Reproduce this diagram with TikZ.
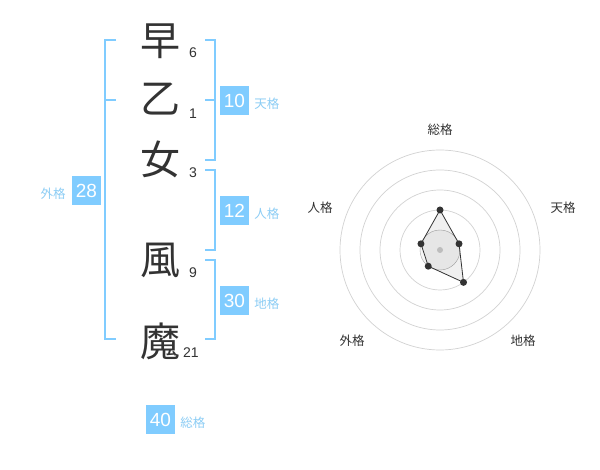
\documentclass[tikz,border=0pt]{standalone}
\usepackage{fontspec}
\setmainfont{Liberation Sans}
\newfontfamily\jpfont{Noto Sans CJK JP}
\usepackage{tikz}
\usetikzlibrary{positioning, calc}
\definecolor{kakublue}{RGB}{128, 204, 255}
\definecolor{kakutext}{RGB}{140, 205, 245}
\definecolor{inkgray}{RGB}{51, 51, 51}
\definecolor{ringgray}{RGB}{210, 210, 210}

\begin{document}
\begin{tikzpicture}[
  x=1pt, y=-1pt,
  kanji/.style={font=\jpfont\fontsize{40}{40}\selectfont, text=inkgray, inner sep=0pt},
  strokes/.style={font=\fontsize{14}{14}\selectfont, text=inkgray, inner sep=0pt},
  numbox/.style={fill=kakublue, text=white, font=\fontsize{19}{19}\selectfont, minimum size=29pt, inner sep=0pt},
  kakulabel/.style={font=\jpfont\fontsize{12.5}{12.5}\selectfont, text=kakutext, inner sep=0pt, yshift=-3pt},
  bracket/.style={draw=kakublue, line width=2pt},
  ring/.style={draw=ringgray, line width=0.7pt},
  axislabel/.style={font=\jpfont\fontsize{12.5}{12.5}\selectfont, text=inkgray, inner sep=0pt},
  vdot/.style={circle, fill=inkgray, inner sep=0pt, minimum size=7pt}
]
  \fill[white] (0,0) rectangle (600,470);
  \useasboundingbox (0,0) rectangle (600,470);

  % name
  \node[kanji] (k1) at (160,41) {早};
  \node[kanji] (k2) at (160,99) {乙};
  \node[kanji] (k3) at (160,159) {女};
  \node[kanji] (k4) at (160,260) {風};
  \node[kanji] (k5) at (160,341) {魔};
  \node[strokes] (s1) at (193,53) {6};
  \node[strokes] (s2) at (193,114) {1};
  \node[strokes] (s3) at (193,173) {3};
  \node[strokes] (s4) at (193,273) {9};
  \node[strokes] (s5) at (191,353) {21};

  % brackets
  \draw[bracket] (116,40) -- (105,40) -- (105,339) -- (116,339);
  \draw[bracket] (105,100) -- (116,100);
  \draw[bracket] (205,40) -- (215,40) -- (215,160) -- (205,160);
  \draw[bracket] (205,100) -- (215,100);
  \draw[bracket] (205,170) -- (215,170) -- (215,250) -- (205,250);
  \draw[bracket] (205,260) -- (215,260) -- (215,339) -- (205,339);

  \node[numbox] (gai) at (86.5,190.5) {28};
  \node[kakulabel, left=6pt of gai] (gaiL) {外格};
  \node[numbox] (ten) at (234.5,100.5) {10};
  \node[kakulabel, right=5pt of ten] (tenL) {天格};
  \node[numbox] (jin) at (234.5,211) {12};
  \node[kakulabel, right=5pt of jin] (jinL) {人格};
  \node[numbox] (chi) at (234.5,300.5) {30};
  \node[kakulabel, right=5pt of chi] (chiL) {地格};
  \node[numbox] (sou) at (160.5,419.5) {40};
  \node[kakulabel, right=5pt of sou] (souL) {総格};

  % radar
  \coordinate (ctr) at (440,250);
  \foreach \r in {40,60,80,100}
    \draw[ring] (ctr) circle (\r pt);
  \draw[draw=ringgray!80!black, fill=black, fill opacity=0.04] (ctr) circle (20pt);
  \coordinate (pS) at ($(ctr)+(-90:40)$);
  \coordinate (pT) at ($(ctr)+(-18:20)$);
  \coordinate (pC) at ($(ctr)+(54:40)$);
  \coordinate (pG) at ($(ctr)+(126:20)$);
  \coordinate (pJ) at ($(ctr)+(198:20)$);
  \draw[inkgray, line width=0.8pt, fill=black, fill opacity=0.06]
    (pS) -- (pT) -- (pC) -- (pG) -- (pJ) -- cycle;
  \fill[ringgray!90!black] (ctr) circle (3pt);
  \foreach \p in {pS,pT,pC,pG,pJ}
    \node[vdot] at (\p) {};

  \node[axislabel] (aS) at (440,130) {総格};
  \node[axislabel] (aT) at (563,208) {天格};
  \node[axislabel] (aC) at (523,341) {地格};
  \node[axislabel] (aG) at (352,341) {外格};
  \node[axislabel] (aJ) at (320,208) {人格};
\end{tikzpicture}
\end{document}
